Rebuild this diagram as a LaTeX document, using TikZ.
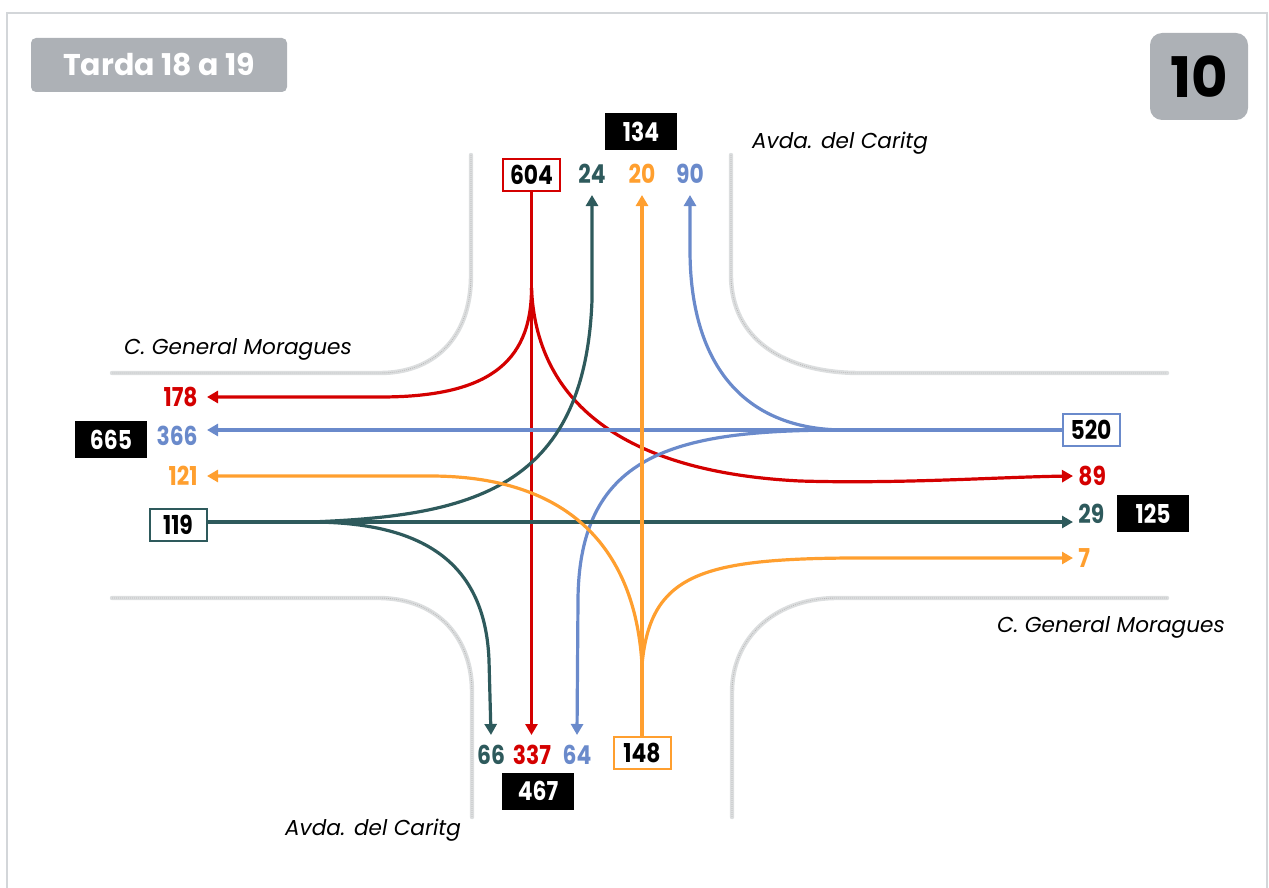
\documentclass[tikz,border=0pt]{standalone}
\usepackage{fontspec}
\setmainfont{Poppins}
\newfontfamily\numfont[FakeStretch=0.84]{Poppins}
\usetikzlibrary{arrows.meta}
\definecolor{cred}{HTML}{D40000}
\definecolor{cteal}{HTML}{2E5A5C}
\definecolor{corange}{HTML}{FF9F2F}
\definecolor{cblue}{HTML}{6A8ACB}
\definecolor{cgraybox}{HTML}{ADB1B6}
\definecolor{ccurb}{HTML}{DCDEDF}
\definecolor{cframe}{HTML}{D3D6D9}
\begin{document}
\begin{tikzpicture}[x=0.5pt,y=-0.5pt,
  flow/.style={line width=1.6pt, -{Triangle[length=5.5pt,width=6pt]}},
  flowplain/.style={line width=1.6pt},
  num/.style={font=\numfont\fontsize{13}{15}\selectfont\bfseries, inner sep=0pt},
  lblT/.style={num, anchor=south, inner ysep=5.5pt},
  lblB/.style={num, anchor=north, inner ysep=5pt},
  lblL/.style={num, anchor=east, inner xsep=4.5pt},
  lblR/.style={num, anchor=west, inner xsep=2.5pt},
  obox/.style={num, fill=white, line width=1pt, minimum width=28.5pt, minimum height=16pt},
  bbox/.style={num, fill=black, text=white, minimum width=36pt, minimum height=18.5pt},
  street/.style={font=\fontsize{10.8}{12}\selectfont\itshape, inner sep=0pt},
  curb/.style={ccurb, line width=2.2pt, line cap=round},
  curbdots/.style={gray!55, line width=0.45pt, dash pattern=on 0.4pt off 0.6pt},
]
\useasboundingbox (0,0) rectangle (1269,888);

% outer frame
\draw[cframe, line width=0.8pt] (7,888) -- (7,13) -- (1267,13) -- (1267,888);

% kerb lines of the four corners
\def\kerbNW{(471,155) -- (471,275) .. controls (471,340) and (432,373) .. (380,373) -- (112,373)}
\def\kerbNE{(731,155) -- (731,275) .. controls (731,340) and (785,373) .. (860,373) -- (1167,373)}
\def\kerbSW{(112,598) -- (380,598) .. controls (440,599) and (472,640) .. (472,692) -- (472,817)}
\def\kerbSE{(1167,598) -- (835,598) .. controls (772,599) and (732,640) .. (732,692) -- (732,817)}
\foreach \k in {\kerbNW,\kerbNE,\kerbSW,\kerbSE}{
  \draw[curb] \k;
  \draw[curbdots] \k;
}

% headings
\node[fill=cgraybox, rounded corners=2.5pt, minimum width=128pt, minimum height=27pt,
      text=white, font=\fontsize{15}{17}\selectfont\bfseries] (title) at (159,65) {Tarda 18 a 19};
\node[fill=cgraybox, rounded corners=6pt, minimum width=49pt, minimum height=43.5pt,
      font=\fontsize{28}{30}\selectfont\bfseries] (sheet) at (1199,76.5) {10};

% street names
\node[street] (sN) at (840,143) {Avda. del Caritg};
\node[street] (sS) at (373,830) {Avda. del Caritg};
\node[street] (sW) at (238,349) {C. General Moragues};
\node[street] (sE) at (1111,627) {C. General Moragues};

% north approach
\node[bbox] (b134) at (641,132) {134};
\node[obox, draw=cred] (b604) at (531.5,175) {604};
\node[lblT, text=cteal] (l24) at (592,195) {24};
\node[lblT, text=corange] (l20) at (642,195) {20};
\node[lblT, text=cblue] (l90) at (690,195) {90};

% west approach
\node[lblL, text=cred] (l178) at (207,397) {178};
\node[lblL, text=cblue] (l366) at (207,436) {366};
\node[lblL, text=corange] (l121) at (207,476) {121};
\node[bbox] (b665) at (111,439.5) {665};
\node[obox, draw=cteal] (b119) at (178,524.5) {119};

% east approach
\node[obox, draw=cblue] (b520) at (1091,430) {520};
\node[lblR, text=cred] (l89) at (1073,476) {89};
\node[lblR, text=cteal] (l29) at (1073,514) {29};
\node[bbox] (b125) at (1153,513.5) {125};
\node[lblR, text=corange] (l7) at (1073,558) {7};

% south approach
\node[lblB, text=cteal] (l66) at (491,735) {66};
\node[lblB, text=cred] (l337) at (532,735) {337};
\node[lblB, text=cblue] (l64) at (577,735) {64};
\node[obox, draw=corange] (b148) at (642,753) {148};
\node[bbox] (b467) at (538,791) {467};

% branch points
\coordinate (R0) at (531.5,288);
\coordinate (B0) at (845,430);
\coordinate (T0) at (310,522);
\coordinate (O0) at (642,665);

% red: from the north
\draw[flow, cred] (b604.south) -- (b604.south |- l337.north);
\draw[flow, cred] (R0) .. controls (531.5,365) and (485,397) .. (380,397) -- (l178.east);
\draw[flow, cred] (R0) .. controls (536,400) and (620,472) .. (800,481)
                       .. controls (900,484) and (1000,477) .. (l89.west);

% blue: from the east
\draw[flow, cblue] (b520.west) -- (l366.east |- b520.west);
\draw[flow, cblue] (B0) .. controls (740,430) and (690,360) .. (690,250) -- (l90.south);
\draw[flow, cblue] (B0) .. controls (680,430) and (579,450) .. (578,600) -- (l64.north);

% teal: from the west
\draw[flowplain, cteal] (b119.east |- T0) -- (T0);
\draw[flow, cteal] (T0) -- (l29.west |- T0);
\draw[flow, cteal] (T0) .. controls (470,516) and (585,490) .. (592,300) -- (l24.south);
\draw[flow, cteal] (T0) .. controls (420,522) and (485,560) .. (489,660) -- (l66.north);

% orange: from the south
\draw[flow, corange] (b148.north) -- (b148.north |- l20.south);
\draw[flow, corange] (O0) .. controls (636,560) and (580,476) .. (430,476) -- (l121.east);
\draw[flow, corange] (O0) .. controls (650,575) and (700,559) .. (850,558) -- (l7.west);
\end{tikzpicture}
\end{document}
